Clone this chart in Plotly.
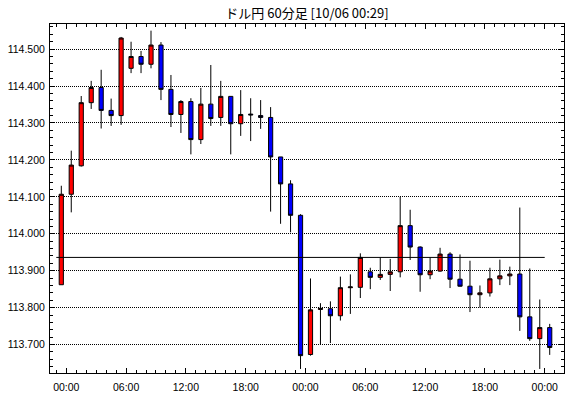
import pandas as pd
import plotly.graph_objects as go

# hourly bars (bar start times)
bar_start = pd.date_range("2018-10-03 23:00", periods=50, freq="h")

open_ = [113.862, 114.107, 114.184, 114.355, 114.396, 114.334, 114.320, 114.448, 114.480, 114.459,
         114.511, 114.391, 114.323, 114.358, 114.255, 114.351, 114.315, 114.372, 114.298, 114.324,
         114.320, 114.315, 114.208, 114.135, 114.050, 113.673, 113.795, 113.797, 113.778, 113.854,
         113.855, 113.897, 113.882, 113.890, 113.897, 114.022, 113.964, 113.889, 113.899, 113.945,
         113.877, 113.858, 113.835, 113.840, 113.878, 113.886, 113.891, 113.775, 113.716, 113.746]
high = [114.130, 114.225, 114.373, 114.414, 114.444, 114.366, 114.533, 114.520, 114.495, 114.550,
        114.519, 114.430, 114.362, 114.367, 114.395, 114.457, 114.414, 114.372, 114.389, 114.367,
        114.362, 114.343, 114.208, 114.145, 114.053, 113.879, 113.812, 113.817, 113.884, 113.890,
        113.947, 113.908, 113.936, 113.932, 114.100, 114.065, 113.966, 113.936, 113.962, 113.950,
        113.944, 113.927, 113.860, 113.908, 113.930, 113.911, 114.071, 113.906, 113.822, 113.756]
low = [113.862, 114.058, 114.182, 114.338, 114.285, 114.292, 114.295, 114.435, 114.435, 114.448,
       114.362, 114.289, 114.273, 114.215, 114.243, 114.292, 114.292, 114.215, 114.265, 114.251,
       114.284, 114.060, 114.027, 114.004, 113.634, 113.670, 113.700, 113.704, 113.765, 113.783,
       113.826, 113.850, 113.875, 113.845, 113.882, 113.929, 113.843, 113.877, 113.897, 113.853,
       113.857, 113.788, 113.800, 113.830, 113.861, 113.861, 113.737, 113.710, 113.634, 113.672]
close = [114.107, 114.186, 114.355, 114.396, 114.334, 114.320, 114.530, 114.480, 114.459, 114.511,
         114.391, 114.323, 114.358, 114.255, 114.351, 114.312, 114.372, 114.298, 114.323, 114.322,
         114.315, 114.208, 114.135, 114.050, 113.670, 113.794, 113.798, 113.778, 113.854, 113.856,
         113.936, 113.882, 113.890, 113.897, 114.022, 113.964, 113.889, 113.899, 113.945, 113.877,
         113.858, 113.835, 113.840, 113.878, 113.886, 113.891, 113.775, 113.716, 113.746, 113.692]

ref_line = 113.936
title_text = "ドル円 60分足 [10/06 00:29]"
y_tick_vals = [113.7, 113.8, 113.9, 114.0, 114.1, 114.2, 114.3, 114.4, 114.5]

# candles drawn at the middle of each hour
x_mid = bar_start + pd.Timedelta(minutes=30)

fig = go.Figure()
fig.add_trace(go.Candlestick(
    x=x_mid, open=open_, high=high, low=low, close=close,
    increasing=dict(fillcolor="#ff0000", line=dict(color="#000000", width=1)),
    decreasing=dict(fillcolor="#0000ff", line=dict(color="#000000", width=1)),
    whiskerwidth=0, showlegend=False, hoverinfo="skip",
))
fig.add_trace(go.Scatter(
    x=[bar_start[0], bar_start[-1]], y=[ref_line, ref_line], mode="lines",
    line=dict(color="#000000", width=1), showlegend=False, hoverinfo="skip",
))

fig.update_layout(
    width=570, height=398,
    margin=dict(l=50, r=6, t=24, b=25, autoexpand=False),
    paper_bgcolor="#ffffff", plot_bgcolor="#ffffff",
    boxgap=0.4,
    title=dict(text=title_text, x=0.5, xref="paper", xanchor="center",
               y=1 - 13 / 398, yref="container", yanchor="middle",
               font=dict(family="Noto Sans CJK JP", size=13, color="#000000")),
    font=dict(family="Liberation Sans", size=10.5, color="#000000"),
)
fig.update_xaxes(
    type="date", rangeslider=dict(visible=False),
    range=["2018-10-03 22:22", "2018-10-06 01:56"],
    tick0="2018-10-04 00:00", dtick=6 * 3600 * 1000, tickformat="%H:%M",
    ticks="inside", ticklen=5, tickcolor="#000000", tickwidth=1,
    minor=dict(dtick=3600 * 1000, ticks="inside", ticklen=3, tickcolor="#000000", tickwidth=1),
    showgrid=False, zeroline=False,
    showline=True, linecolor="#000000", linewidth=1, mirror="ticks",
    ticklabelstandoff=4,
)
fig.update_yaxes(
    range=[113.623, 114.568],
    tickvals=y_tick_vals, tickformat=".3f",
    ticks="inside", ticklen=5, tickcolor="#000000", tickwidth=1,
    minor=dict(dtick=0.02, tick0=113.6, ticks="inside", ticklen=3, tickcolor="#000000", tickwidth=1,
               showgrid=False),
    showgrid=True, gridcolor="#000000", gridwidth=1, griddash="1px,1px",
    zeroline=False,
    showline=True, linecolor="#000000", linewidth=1, mirror="ticks",
    ticklabelstandoff=2,
)

fig.write_html("out.html",
               config={"displayModeBar": False},
               post_script="document.body.style.margin='0';document.body.style.overflow='hidden';")
